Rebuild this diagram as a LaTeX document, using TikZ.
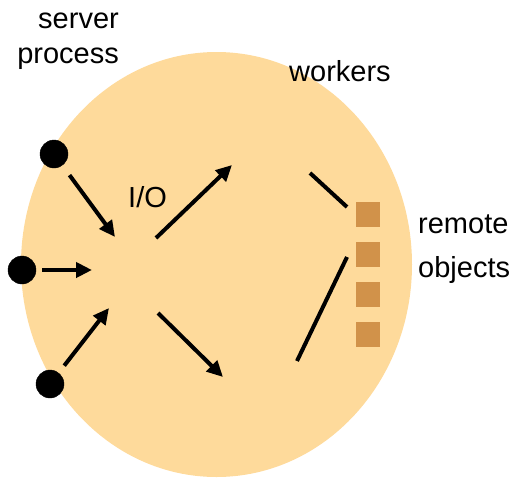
\documentclass[tikz,border=0pt]{standalone}
\usepackage{fontspec}
\setmainfont{Liberation Sans}
\usepackage{tikz}
\usetikzlibrary{arrows.meta}

\definecolor{procfill}{RGB}{254,218,155}
\definecolor{objfill}{RGB}{209,146,74}

\tikzset{
	lbl/.style={inner sep=0pt,font=\fontsize{29}{35}\selectfont},
	conn/.style={circle,draw,fill=black,inner sep=0pt,minimum size=28pt},
	arr/.style={line width=4pt,-{Triangle[length=16pt,width=15pt]}},
	wire/.style={line width=4pt},
	objbox/.style={rectangle,fill=objfill,inner sep=0pt,minimum width=24pt,minimum height=25pt}
}

\begin{document}
\begin{tikzpicture}[x=1pt,y=-1pt]
		\useasboundingbox (0,0) rectangle (514,477);
%		\draw[help lines,step=50] (0,0) grid (514,477);
		\path (216.5,264.5) coordinate (proc);

		\path (115,237) coordinate (in1);
		\path (92,270) coordinate (in2);
		\path (109,308) coordinate (in3);

		\path (156,238) coordinate (out1_s);
		\path (232,165) coordinate (out1_e);
		\path (158,313) coordinate (out2_s);
		\path (223,377) coordinate (out2_e);

		\path (310,173) coordinate (wrk1_s);
		\path (347,207) coordinate (wrk1_e);
		\path (347,257) coordinate (wrk2_s);
		\path (297,361) coordinate (wrk2_e);

		\fill[procfill] (proc) ellipse [x radius=195.5,y radius=212.5];

		\node[conn] (srv1) at (54,154) {};
		\node[conn] (srv2) at (22,270) {};
		\node[conn] (srv3) at (50,384) {};

		\draw[arr,shorten <=12pt] (srv1) -- (in1);
		\draw[arr,shorten <=6pt] (srv2) -- (in2);
		\draw[arr,shorten <=9pt] (srv3) -- (in3);

		\draw[arr] (out1_s) -- (out1_e);
		\draw[arr] (out2_s) -- (out2_e);

		\draw[wire] (wrk1_s) -- (wrk1_e);
		\draw[wire] (wrk2_s) -- (wrk2_e);

		\foreach \i in {1,...,4}
			\node[objbox] (obj\i) at (368,{174.5+40*\i}) {};

		\node[lbl,anchor=base east,align=right] (srvlbl) at (119,63) {server\\process};
		\node[lbl,anchor=base west] (wrklbl) at (289,81) {workers};
		\node[lbl,anchor=base west] (iolbl) at (128,207) {I/O};
		\node[lbl,anchor=base west,align=left] (objlbl) at (418,277) {remote\\[9pt]objects};

	\end{tikzpicture}
\end{document}
